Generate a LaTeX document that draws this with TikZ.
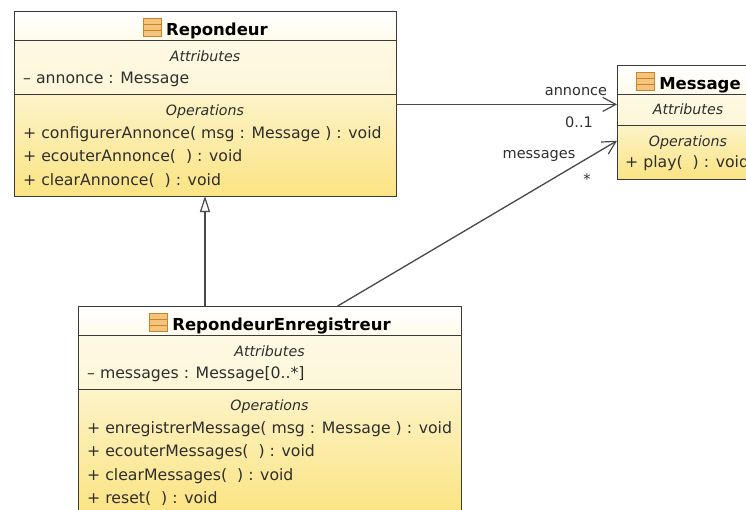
\documentclass[tikz,border=0pt]{standalone}
\usepackage{fontspec}
\setmainfont{DejaVu Sans}
\usepackage{tikz}
\usetikzlibrary{positioning,arrows.meta}
\definecolor{umlline}{HTML}{3A3A3A}
\definecolor{umltext}{HTML}{2E2E2E}
\definecolor{linkLine}{HTML}{484848}
\definecolor{headTop}{HTML}{FFFFFF}
\definecolor{headBottom}{HTML}{FFFBEB}
\definecolor{attrTop}{HTML}{FEF9E4}
\definecolor{attrBottom}{HTML}{FDF6D8}
\definecolor{opsTop}{HTML}{FCF3C8}
\definecolor{opsBottom}{HTML}{FBE483}
\definecolor{iconFill}{HTML}{F4C47C}
\definecolor{iconLine}{HTML}{C6852B}
\begin{document}
\begin{tikzpicture}[
        x=1pt, y=-1pt,
        compartment/.style={rectangle, draw=umlline, line width=1pt, outer sep=0pt, inner sep=0pt},
        classHead/.style={compartment, minimum height=29pt, top color=headTop, bottom color=headBottom},
        classAttr/.style={compartment, top color=attrTop, bottom color=attrBottom},
        classOps/.style={compartment, top color=opsTop, bottom color=opsBottom},
        classTitle/.style={font=\fontsize{16.5}{20}\selectfont\bfseries, text=black, inner sep=0pt, text height=12pt, text depth=4pt, xshift=12pt, yshift=-5.5pt},
        classIcon/.style={rectangle, draw=iconLine, line width=1.2pt, fill=iconFill, minimum width=18pt, minimum height=18pt, inner sep=0pt, yshift=3.5pt,
            path picture={
                \draw[iconLine, line width=1pt]
                    ([yshift=-6pt]path picture bounding box.north west) -- ([yshift=-6pt]path picture bounding box.north east)
                    ([yshift=-12pt]path picture bounding box.north west) -- ([yshift=-12pt]path picture bounding box.north east);
            }},
        sectionName/.style={font=\fontsize{14.2}{17}\selectfont\itshape, text=umltext, inner sep=0pt, text height=12pt, text depth=4pt},
        member/.style={font=\fontsize{15.7}{19}\selectfont, text=umltext, inner sep=0pt, text height=12pt, text depth=4pt},
        linkLabel/.style={font=\fontsize{14.5}{17}\selectfont, text=umltext, inner sep=0pt},
        assoc/.style={-{Straight Barb[length=13pt,width=14pt,line width=1.2pt]}, linkLine, line width=1.3pt},
        inherit/.style={-{Triangle[open,fill=white,length=16pt,width=10pt,line width=1.2pt]}, linkLine, line width=1.3pt}
    ]
        \clip (0,0) rectangle (746,509);

        % Repondeur class
        \node[classHead, minimum width=382pt, anchor=north west] (repHead) at (14,11) {};
        \node[classAttr, minimum width=382pt, minimum height=54pt, below=0pt of repHead] (repAttr) {};
        \node[classOps, minimum width=382pt, minimum height=102pt, below=0pt of repAttr] (repOps) {};
        \node[classTitle] (repTitle) at (repHead) {Repondeur};
        \node[classIcon, left=4pt of repTitle] (repIcon) {};
        \node[sectionName, below=9pt of repAttr.north] (repAttrName) {Attributes};
        \node[member, below right=31pt and 9pt of repAttr.north west] (repAnnonce) {– annonce : Message};
        \node[sectionName, below=9pt of repOps.north] (repOpsName) {Operations};
        \node[member, below right=32pt and 9pt of repOps.north west] (repConfig) {+ configurerAnnonce( msg : Message ) : void};
        \node[member, below=23.5pt of repConfig.west, anchor=west] (repEcouter) {+ ecouterAnnonce(\ \ ) : void};
        \node[member, below=23.5pt of repEcouter.west, anchor=west] (repClear) {+ clearAnnonce(\ \ ) : void};

        % Message class
        \node[classHead, minimum width=142pt, anchor=north west] (msgHead) at (617,65) {};
        \node[classAttr, minimum width=142pt, minimum height=31pt, below=0pt of msgHead] (msgAttr) {};
        \node[classOps, minimum width=142pt, minimum height=54pt, below=0pt of msgAttr] (msgOps) {};
        \node[classTitle] (msgTitle) at (msgHead) {Message};
        \node[classIcon, left=4pt of msgTitle] (msgIcon) {};
        \node[sectionName, below=8pt of msgAttr.north] (msgAttrName) {Attributes};
        \node[sectionName, below=9pt of msgOps.north] (msgOpsName) {Operations};
        \node[member, below right=30pt and 8pt of msgOps.north west] (msgPlay) {+ play(\ \ ) : void};

        % RepondeurEnregistreur class
        \node[classHead, minimum width=383pt, anchor=north west] (recHead) at (78,306) {};
        \node[classAttr, minimum width=383pt, minimum height=54pt, below=0pt of recHead] (recAttr) {};
        \node[classOps, minimum width=383pt, minimum height=124pt, below=0pt of recAttr] (recOps) {};
        \node[classTitle] (recTitle) at (recHead) {RepondeurEnregistreur};
        \node[classIcon, left=4pt of recTitle] (recIcon) {};
        \node[sectionName, below=9pt of recAttr.north] (recAttrName) {Attributes};
        \node[member, below right=31pt and 9pt of recAttr.north west] (recMessages) {– messages : Message[0..*]};
        \node[sectionName, below=9pt of recOps.north] (recOpsName) {Operations};
        \node[member, below right=32pt and 9pt of recOps.north west] (recEnreg) {+ enregistrerMessage( msg : Message ) : void};
        \node[member, below=23.5pt of recEnreg.west, anchor=west] (recEcouter) {+ ecouterMessages(\ \ ) : void};
        \node[member, below=23.5pt of recEcouter.west, anchor=west] (recClear) {+ clearMessages(\ \ ) : void};
        \node[member, below=23.5pt of recClear.west, anchor=west] (recReset) {+ reset(\ \ ) : void};

        % Arrows
        \draw[inherit] (repOps.south |- recHead.north) -- (repOps.south);
        \draw[assoc] (repOps.12.9) -- (repOps.12.9 -| msgAttr.west);
        \draw[assoc] (recHead.12.7) -- (msgOps.171.2);

        % Labels
        \node[linkLabel] (annonceLabel) at (576,92) {annonce};
        \node[linkLabel] (annonceMult) at (579,122) {0..1};
        \node[linkLabel] (messagesLabel) at (539,156) {messages};
        \node[linkLabel] (messagesMult) at (587,179) {*};
    \end{tikzpicture}
\end{document}
